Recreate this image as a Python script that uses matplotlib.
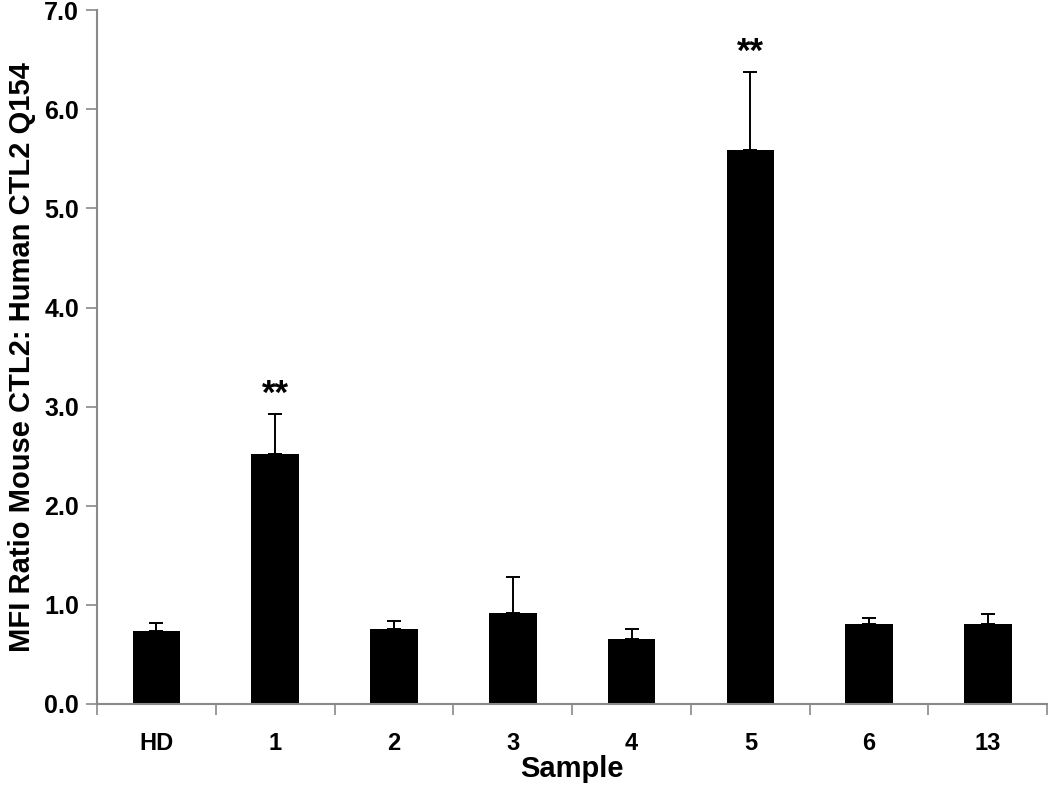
import numpy as np
import matplotlib.pyplot as plt

samples = ["HD", "1", "2", "3", "4", "5", "6", "13"]
ratio = [0.74, 2.52, 0.76, 0.92, 0.66, 5.59, 0.81, 0.81]
err_up = [0.08, 0.41, 0.08, 0.36, 0.10, 0.79, 0.06, 0.10]
stars = ["", "**", "", "", "", "**", "", ""]

fig = plt.figure(figsize=(10.5, 7.91), dpi=100)
ax = fig.add_axes([0.0924, 0.11, 0.905, 0.877])

x = np.arange(len(samples))
ax.bar(x, ratio, width=0.4, color="black", zorder=2)
ax.errorbar(x, ratio, yerr=[np.zeros(len(x)), err_up], fmt="none",
            ecolor="black", elinewidth=1.4, capsize=5, capthick=1.4, zorder=3)

for xi, v, e, s in zip(x, ratio, err_up, stars):
    if s:
        ax.text(xi, v + e + 0.03, s, ha="center", va="bottom",
                fontsize=25, fontweight="bold", family="Liberation Sans")

ax.set_xlim(-0.5, len(samples) - 0.5)
ax.set_ylim(0, 7)
ax.set_yticks(np.arange(0, 7.01, 1.0))
ax.set_yticklabels([f"{t:.1f}" for t in np.arange(0, 7.01, 1.0)],
                   fontsize=18, fontweight="bold", family="Liberation Sans")
ax.set_xticks(x)
ax.set_xticklabels(samples, fontsize=17, fontweight="bold", family="Liberation Sans")
ax.set_xticks(np.arange(-0.5, len(samples)), minor=True)
ax.tick_params(axis="x", which="major", length=0, pad=20)
ax.tick_params(axis="x", which="minor", length=8, width=1.2, color="#898989", direction="out")
ax.tick_params(axis="y", length=8, width=1.2, color="#898989", direction="out", pad=5)

for side in ["top", "right"]:
    ax.spines[side].set_visible(False)
for side in ["left", "bottom"]:
    ax.spines[side].set_color("#898989")
    ax.spines[side].set_linewidth(1.5)

ax.set_xlabel("Sample", fontsize=21, fontweight="bold", family="Liberation Sans", labelpad=0)
ax.set_ylabel("MFI Ratio Mouse CTL2: Human CTL2 Q154", fontsize=21,
              fontweight="bold", family="Liberation Sans", labelpad=6)

fig.savefig("out.png", dpi=100)
